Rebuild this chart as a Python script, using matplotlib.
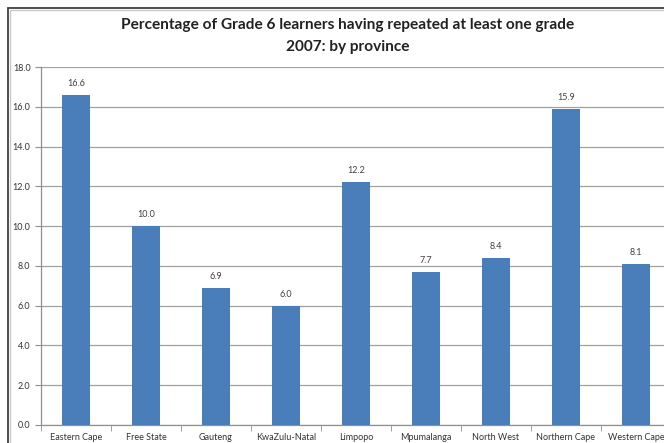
import matplotlib
matplotlib.use("Agg")
import matplotlib.pyplot as plt
from matplotlib.patches import Rectangle
from matplotlib.ticker import FixedLocator, FormatStrFormatter

provinces = ["Eastern Cape", "Free State", "Gauteng", "KwaZulu-Natal", "Limpopo",
             "Mpumalanga", "North West", "Northern Cape", "Western Cape"]
values = [16.6, 10.0, 6.9, 6.0, 12.2, 7.7, 8.4, 15.9, 8.1]
labels = ["16.6", "10.0", "6.9", "6.0", "12.2", "7.7", "8.4", "15.9", "8.1"]

W, H = 664, 443
fig = plt.figure(figsize=(W / 100, H / 100), dpi=100)
plt.rcParams['font.family'] = ['Lato', 'DejaVu Sans']

# outer chart frame
fig.patches.append(Rectangle((7.5 / W, -0.1), 1.2, (H - 7.5) / H + 0.1, transform=fig.transFigure,
                             fill=False, edgecolor='#404040', linewidth=1.3))
fig.patches.append(Rectangle((10 / W, -0.1), 1.2, (H - 10) / H + 0.1, transform=fig.transFigure,
                             fill=False, edgecolor='#c8c8c8', linewidth=1.0))

left, right, top, bottom = 41, 664, 67, 425
ax = fig.add_axes([left / W, (H - bottom) / H, (right - left) / W, (bottom - top) / H])
x = list(range(len(provinces)))
ax.bar(x, values, width=0.4, color='#4A7EBB', zorder=3)
for xi, v, lab in zip(x, values, labels):
    ax.annotate(lab, (xi, v), xytext=(0, 5), textcoords='offset points', ha='center', va='bottom',
                fontsize=6.5, color='#404040')

ax.set_xlim(-0.5, -0.5 + (right - left) / 70.0)
ax.set_ylim(0, 18)
ax.yaxis.set_major_locator(FixedLocator([i * 2 for i in range(10)]))
ax.yaxis.set_major_formatter(FormatStrFormatter('%.1f'))
ax.grid(axis='y', color='#a0a0a0', linewidth=0.9, zorder=0)
ax.set_xticks(x)
ax.set_xticklabels(provinces, fontsize=6.5, color='#333333')
ax.xaxis.set_minor_locator(FixedLocator([i + 0.5 for i in range(-1, 9)]))
ax.tick_params(axis='x', which='major', length=0, pad=6)
ax.tick_params(axis='x', which='minor', length=4, color='#909090', direction='out')
ax.tick_params(axis='y', labelsize=6.5, labelcolor='#333333', length=4, color='#909090')
for s in ['top', 'right']:
    ax.spines[s].set_visible(False)
for s in ['left', 'bottom']:
    ax.spines[s].set_color('#909090')
    ax.spines[s].set_linewidth(0.9)

fig.text(348 / W, 1 - 25 / H, "Percentage of Grade 6 learners having repeated at least one grade",
         ha='center', va='center', fontsize=11.1, fontweight='bold', color='#222222')
fig.text(348 / W, 1 - 47 / H, "2007: by province",
         ha='center', va='center', fontsize=11.1, fontweight='bold', color='#222222')

fig.savefig("out.png", dpi=100)
